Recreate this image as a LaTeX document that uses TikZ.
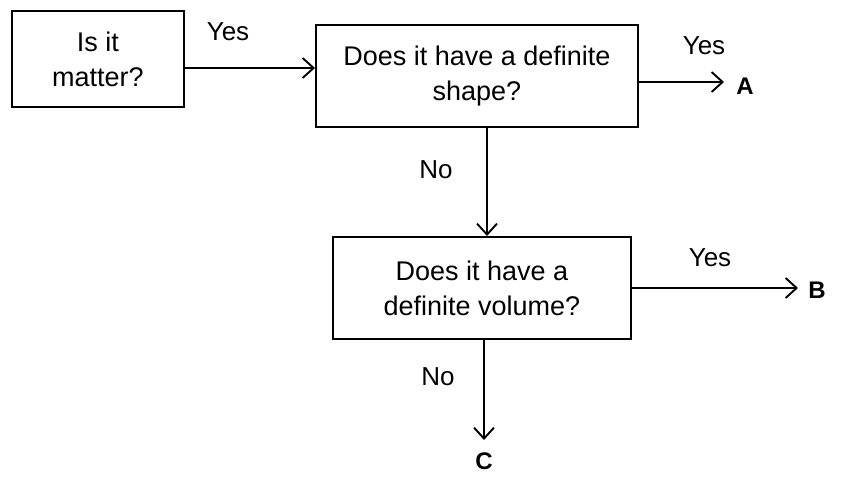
\documentclass[tikz,border=0pt]{standalone}
\usepackage{fontspec}
\setmainfont{Liberation Sans}
\usetikzlibrary{arrows.meta}
\begin{document}
\begin{tikzpicture}[x=1pt,y=-1pt,
  qbox/.style={draw, line width=1.9pt, inner sep=0pt, align=center, anchor=north west,
     font=\fontsize{27}{35}\selectfont},
  lbl/.style={font=\fontsize{26}{30}\selectfont, inner sep=0pt},
  letter/.style={font=\fontsize{24}{28}\selectfont\bfseries, inner sep=0pt},
  arr/.style={line width=1.9pt, -{Straight Barb[length=11pt,width=20pt,line width=1.9pt]}}]
\useasboundingbox (0,0) rectangle (846,477);
\node[qbox, minimum width=172pt, minimum height=96pt] (b1) at (11,10) {Is it\\matter?};
\node[qbox, minimum width=322pt, minimum height=102pt] (b2) at (315,24) {Does it have a definite\\shape?};
\node[qbox, minimum width=298pt, minimum height=102pt] (b3) at (332,236) {Does it have a\\definite volume?};
\node[lbl] (y1) at (228,32) {Yes};
\node[lbl] (y2) at (704,46) {Yes};
\node[lbl] (y3) at (710,258) {Yes};
\node[lbl] (n1) at (436,170) {No};
\node[lbl] (n2) at (438,377) {No};
\node[letter] (A) at (745,86) {A};
\node[letter] (B) at (817,290) {B};
\node[letter] (C) at (484,461) {C};
\coordinate (aA) at (724,82);
\coordinate (aB) at (798,288);
\coordinate (aC) at (484,440);
\draw[arr] (b1.east |- 0,68) -- (b2.west |- 0,68);
\draw[arr] (b2.east |- aA) -- (aA);
\draw[arr] (b2.south -| 487,0) -- (b3.north -| 487,0);
\draw[arr] (b3.east |- aB) -- (aB);
\draw[arr] (b3.south -| aC) -- (aC);
\end{tikzpicture}
\end{document}
